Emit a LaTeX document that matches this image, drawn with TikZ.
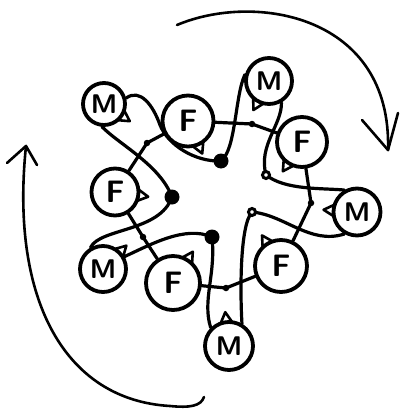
\documentclass[tikz,border=0pt]{standalone}
\usetikzlibrary{calc}
\pgfdeclarelayer{wires}
\pgfdeclarelayer{sockets}
\pgfsetlayers{wires,sockets,main}
\newcommand\socketat[3]{%
  \path ($(#1.center)!#2!(#3)$) coordinate (sb)
        ($(#1.center)!#2+10pt!(#3)$) coordinate (sa);
  \draw[socket] ($(sb)!5.5pt!90:(sa)$) -- (sa) -- ($(sb)!5.5pt!-90:(sa)$) -- cycle;}
\begin{document}
\begin{tikzpicture}[x=1pt,y=-1pt,
  mnode/.style={circle,draw,line width=3.8pt,fill=white,inner sep=0pt,
    font=\fontsize{27}{27}\selectfont\sffamily\bfseries},
  fnode/.style={mnode,font=\fontsize{31}{31}\selectfont\sffamily\bfseries},
  bigdot/.style={circle,fill,inner sep=0pt,minimum size=15pt},
  ringdot/.style={circle,draw,fill=white,line width=3pt,inner sep=0pt,minimum size=7pt},
  linkdot/.style={circle,fill,inner sep=0pt,minimum size=6.5pt},
  wire/.style={line width=3.2pt,line cap=round,line join=round},
  socket/.style={draw,fill=white,line width=2.6pt,line join=round},
  bigarrow/.style={line width=2.6pt,line cap=round,line join=round}]
\useasboundingbox (0,0) rectangle (403,412);

% circles
\node[mnode,minimum size=42pt] (M1) at (104,104) {M};
\node[fnode,minimum size=51pt] (F1) at (188,121) {F};
\node[mnode,minimum size=46pt] (M2) at (269,81) {M};
\node[fnode,minimum size=50pt] (F2) at (302,142) {F};
\node[mnode,minimum size=47pt] (M3) at (357,212) {M};
\node[fnode,minimum size=52pt] (F3) at (281,266) {F};
\node[mnode,minimum size=48pt] (M4) at (229,346) {M};
\node[fnode,minimum size=54pt] (F4) at (173,283) {F};
\node[mnode,minimum size=46pt] (M5) at (103,269) {M};
\node[fnode,minimum size=47pt] (F5) at (115,192) {F};

% hub dots
\node[bigdot] (D1) at (172,197) {};
\node[bigdot] (D2) at (221,161) {};
\node[ringdot] (D3) at (266,175) {};
\node[ringdot] (D4) at (252,212) {};
\node[bigdot] (D5) at (212,237) {};

% link dots
\node[linkdot] (L1) at (147,143) {};
\node[linkdot] (L2) at (252,124) {};
\node[linkdot] (L3) at (311,203) {};
\node[linkdot] (L4) at (226,288) {};
\node[linkdot] (L5) at (143,237) {};

% socket targets
\coordinate (tM1) at (128,120);
\coordinate (tF1) at (202,153);
\coordinate (tM2) at (255,107);
\coordinate (tF2) at (285,168);
\coordinate (tM3) at (327,210);
\coordinate (tF3) at (263,237);
\coordinate (tM4) at (225,310);
\coordinate (tF4) at (192,253);
\coordinate (tM5) at (125,247);
\coordinate (tF5) at (150,197);

\begin{pgfonlayer}{sockets}
  \socketat{M1}{21pt}{tM1}
  \socketat{F1}{25.5pt}{tF1}
  \socketat{M2}{23pt}{tM2}
  \socketat{F2}{25pt}{tF2}
  \socketat{M3}{23.5pt}{tM3}
  \socketat{F3}{26pt}{tF3}
  \socketat{M4}{24pt}{tM4}
  \socketat{F4}{27pt}{tF4}
  \socketat{M5}{23pt}{tM5}
  \socketat{F5}{23.5pt}{tF5}
\end{pgfonlayer}

\begin{pgfonlayer}{wires}
  % F ring
  \draw[wire] (F5) -- (L1.center) -- (F1);
  \draw[wire] (F1) -- (L2.center) -- (F2);
  \draw[wire] (F2) -- (L3.center) -- (F3);
  \draw[wire] (F3) -- (L4.center) -- (F4);
  \draw[wire] (F4) -- (L5.center) -- (F5);
  % M loops
  \draw[wire] (M1.-95) .. controls (120,145) and (160,165) .. (D1.center);
  \draw[wire] (M1.15) .. controls (140,88) and (153,105) .. (160,125)
              .. controls (168,145) and (195,162) .. (D2.center);
  \draw[wire] (M2.165) .. controls (235,95) and (236,150) .. (D2.center);
  \draw[wire] (M2.-60) .. controls (282,125) and (258,145) .. (D3.center);
  \draw[wire] (D3.center) .. controls (285,190) and (320,188) .. (M3.120);
  \draw[wire] (D4.center) .. controls (285,215) and (310,245) .. (M3.240);
  \draw[wire] (D5.center) .. controls (216,275) and (202,300) .. (M4.135);
  \draw[wire] (D4.center) .. controls (240,225) and (240,290) .. (M4.60);
  \draw[wire] (M5.120) .. controls (100,228) and (160,232) .. (D1.center);
  \draw[wire] (M5.30) .. controls (150,245) and (185,225) .. (D5.center);
\end{pgfonlayer}

% big circulation arrows
\coordinate (A1s) at (177,25);
\coordinate (A1e) at (388,150);
\coordinate (A1l) at (362,120);
\coordinate (A1r) at (398,113);
\draw[bigarrow] (A1s) .. controls (255,-8) and (392,15) .. (A1e);
\draw[bigarrow] (A1l) -- (A1e) -- (A1r);

\coordinate (A2s) at (204,397);
\coordinate (A2m) at (170,406);
\coordinate (A2e) at (26,146);
\coordinate (A2l) at (7,163);
\coordinate (A2r) at (37,165);
\draw[bigarrow] (A2s) .. controls (201,406) and (190,408) .. (A2m)
   .. controls (65,400) and (10,300) .. (A2e);
\draw[bigarrow] (A2l) -- (A2e) -- (A2r);
\end{tikzpicture}
\end{document}
